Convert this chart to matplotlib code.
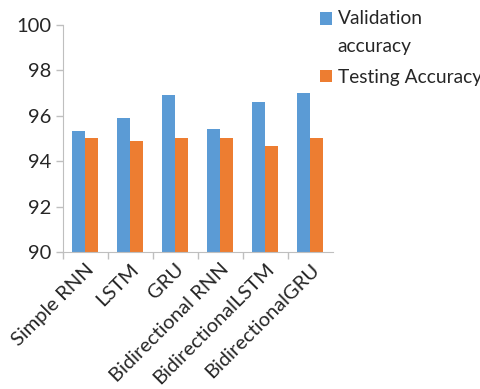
import numpy as np
import matplotlib.pyplot as plt

models = ["Simple RNN", "LSTM", "GRU", "Bidirectional RNN",
          "BidirectionalLSTM", "BidirectionalGRU"]
validation = [95.32, 95.89, 96.93, 95.42, 96.6, 97.0]
testing = [95.0, 94.9, 95.0, 95.0, 94.67, 95.0]

plt.rcParams['font.family'] = ['Lato', 'DejaVu Sans']
txt = '#262626'
grey = '#BFBFBF'
fs = 14.5

fig = plt.figure(figsize=(4.81, 3.89), dpi=100)
ax = fig.add_axes([0.130, 0.352, 0.562, 0.584])

x = np.arange(len(models))
w = 0.29
b1 = ax.bar(x - w / 2, validation, w, color='#5B9BD5', label='Validation\naccuracy')
b2 = ax.bar(x + w / 2, testing, w, color='#ED7D31', label='Testing Accuracy')

ax.set_ylim(90, 100)
ax.set_yticks(range(90, 101, 2))
ax.set_xlim(-0.5, len(models) - 0.5)
ax.set_xticks(x)
ax.set_xticklabels(models, rotation=45, ha='right', rotation_mode='anchor',
                   fontsize=fs, color=txt)
ax.set_xticks(np.arange(len(models)) - 0.5, minor=True)
ax.tick_params(axis='x', which='major', length=0, pad=6)
ax.tick_params(axis='x', which='minor', length=5, color=grey, width=1)
ax.tick_params(axis='y', length=5, color=grey, width=1, labelsize=fs,
               labelcolor=txt, pad=3)

for s in ['top', 'right']:
    ax.spines[s].set_visible(False)
for s in ['left', 'bottom']:
    ax.spines[s].set_color(grey)

leg = fig.legend(handles=[b1, b2], loc='upper left', bbox_to_anchor=(0.638, 1.01),
                 frameon=False, fontsize=13.8, labelcolor=txt, handlelength=0.6,
                 handleheight=0.6, handletextpad=0.3, labelspacing=0.75,
                 borderaxespad=0.3)
for t in leg.get_texts():
    t.set_linespacing(1.8)
# put the first swatch next to the first line of its two-line label
h = leg.legend_handles[0]
h.set_y(h.get_y() + 10)

fig.savefig('out.png', dpi=100)
